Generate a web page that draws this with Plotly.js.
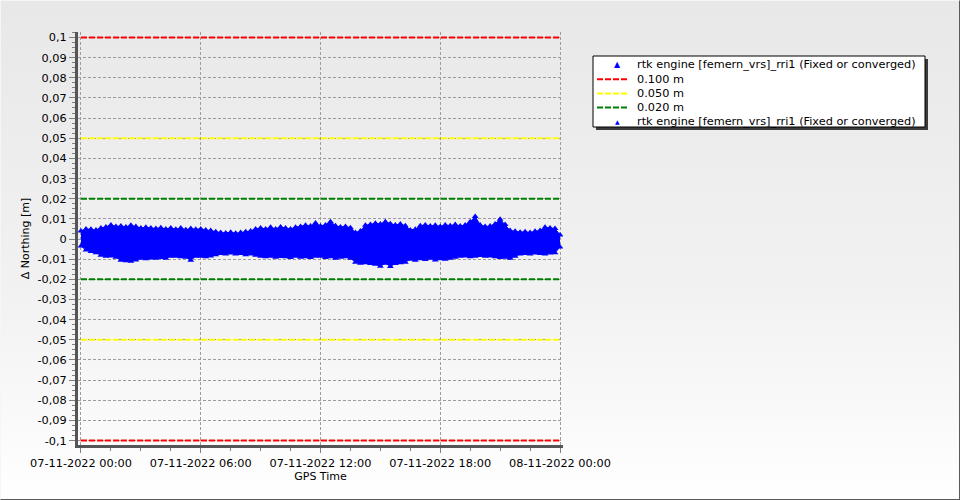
<!DOCTYPE html>
<html>
<head>
<meta charset="utf-8">
<script src="https://cdn.plot.ly/plotly-3.0.1.min.js"></script>
<style>
  html, body { margin: 0; padding: 0; }
  #wrap { position: relative; width: 960px; height: 500px;
          background: linear-gradient(to bottom, #e8e8e8 0%, #f2f2f2 60%, #ffffff 100%); }
  #chart { position: absolute; left: 0; top: 0; width: 960px; height: 500px; }
  #frame { position: absolute; left: 0; top: 0; width: 960px; height: 500px; box-sizing: border-box;
           border-top: 1px solid #f6f6f6; border-left: 1px solid #f6f6f6;
           border-right: 1px solid #5a5a5a; border-bottom: 1px solid #5a5a5a; pointer-events: none; }
</style>
</head>
<body>
<div id="wrap"><div id="chart"></div><div id="frame"></div></div>
<script>
// ---- data ----
const dayStart = '2022-11-07 00:00';
const dayEnd = '2022-11-08 00:00';
const sampleStepMinutes = 15;

// upper envelope of the rtk Δ Northing scatter (m), every 15 min from 00:00 to 24:00
const upperValues = [
  0.0040, 0.0050, 0.0048, 0.0045, 0.0055, 0.0060, 0.0070, 0.0062,
  0.0065, 0.0060, 0.0068, 0.0062, 0.0055, 0.0058, 0.0054, 0.0052,
  0.0056, 0.0050, 0.0055, 0.0048, 0.0054, 0.0046, 0.0052, 0.0048,
  0.0050, 0.0045, 0.0042, 0.0036, 0.0032, 0.0030, 0.0034, 0.0028,
  0.0032, 0.0036, 0.0040, 0.0050, 0.0055, 0.0050, 0.0058, 0.0050,
  0.0060, 0.0054, 0.0050, 0.0058, 0.0062, 0.0068, 0.0064, 0.0080,
  0.0064, 0.0070, 0.0086, 0.0066, 0.0060, 0.0062, 0.0056, 0.0032,
  0.0040, 0.0068, 0.0072, 0.0078, 0.0074, 0.0086, 0.0076, 0.0070,
  0.0074, 0.0066, 0.0045, 0.0048, 0.0066, 0.0070, 0.0064, 0.0068,
  0.0062, 0.0070, 0.0066, 0.0072, 0.0064, 0.0070, 0.0085, 0.0112,
  0.0070, 0.0062, 0.0064, 0.0075, 0.0098, 0.0072, 0.0042, 0.0038,
  0.0034, 0.0036, 0.0032, 0.0038, 0.0042, 0.0058, 0.0055, 0.0052,
  0.0020
];
// lower envelope (m)
const lowerValues = [
  -0.0035, -0.0055, -0.0062, -0.0068, -0.0080, -0.0085, -0.0084, -0.0090,
  -0.0105, -0.0108, -0.0110, -0.0104, -0.0095, -0.0098, -0.0094, -0.0096,
  -0.0092, -0.0095, -0.0086, -0.0085, -0.0088, -0.0090, -0.0105, -0.0086,
  -0.0085, -0.0088, -0.0084, -0.0078, -0.0072, -0.0075, -0.0070, -0.0074,
  -0.0072, -0.0078, -0.0074, -0.0080, -0.0086, -0.0088, -0.0085, -0.0090,
  -0.0087, -0.0088, -0.0092, -0.0086, -0.0090, -0.0088, -0.0092, -0.0086,
  -0.0085, -0.0092, -0.0088, -0.0095, -0.0090, -0.0088, -0.0095, -0.0115,
  -0.0120, -0.0118, -0.0122, -0.0125, -0.0135, -0.0120, -0.0136, -0.0122,
  -0.0118, -0.0115, -0.0100, -0.0105, -0.0098, -0.0102, -0.0096, -0.0104,
  -0.0098, -0.0100, -0.0095, -0.0090, -0.0086, -0.0084, -0.0088, -0.0085,
  -0.0082, -0.0086, -0.0084, -0.0088, -0.0092, -0.0090, -0.0095, -0.0085,
  -0.0075, -0.0072, -0.0074, -0.0070, -0.0072, -0.0075, -0.0070, -0.0068,
  -0.0040
];

const thresholds = [0.1, 0.05, 0.02];
const thresholdNames = ['0.100 m', '0.050 m', '0.020 m'];
const seriesName = 'rtk engine [femern_vrs]_rri1 (Fixed or converged)';

const yTickVals = [0.1, 0.09, 0.08, 0.07, 0.06, 0.05, 0.04, 0.03, 0.02, 0.01, 0,
  -0.01, -0.02, -0.03, -0.04, -0.05, -0.06, -0.07, -0.08, -0.09, -0.1];
const yTickText = ['0,1', '0,09', '0,08', '0,07', '0,06', '0,05', '0,04', '0,03', '0,02', '0,01', '0',
  '-0,01', '-0,02', '-0,03', '-0,04', '-0,05', '-0,06', '-0,07', '-0,08', '-0,09', '-0,1'];

// ---- build ----
function sampleTimes(n) {
  const t0 = new Date(dayStart.replace(' ', 'T') + ':00Z').getTime();
  const out = [];
  for (let i = 0; i < n; i++) {
    const d = new Date(t0 + i * sampleStepMinutes * 60000);
    out.push(d.toISOString().slice(0, 19).replace('T', ' '));
  }
  return out;
}
const times = sampleTimes(upperValues.length);

const lineColors = ['#ff0000', '#ffff00', '#008000'];
const traces = [];
thresholds.forEach((v, i) => {
  [v, -v].forEach(val => {
    traces.push({
      x: [dayStart, dayEnd], y: [val, val], type: 'scatter', mode: 'lines',
      name: thresholdNames[i], showlegend: false, hoverinfo: 'skip',
      line: { color: lineColors[i], width: 2, dash: '6px,2px' }
    });
  });
});
traces.push({
  x: times, y: lowerValues, type: 'scatter', mode: 'lines+markers', name: seriesName,
  showlegend: false, line: { color: '#0000ff', width: 1 },
  marker: { symbol: 'triangle-up', size: 6, color: '#0000ff' }
});
traces.push({
  x: times, y: upperValues, type: 'scatter', mode: 'lines+markers', name: seriesName,
  showlegend: false, fill: 'tonexty', fillcolor: '#0000ff', line: { color: '#0000ff', width: 1 },
  marker: { symbol: 'triangle-up', size: 6, color: '#0000ff' }
});

// ---- custom legend (pixel -> paper) ----
const L = 78, T = 32, W = 485, H = 413;
const px = v => (v - L) / W;
const py = v => (T + H - v) / H;
const font = { family: 'DejaVu Sans, sans-serif', size: 11, color: '#000' };
const legendFont = { family: 'DejaVu Sans, sans-serif', size: 11.3, color: '#000' };
const tickFont = { family: 'DejaVu Sans, sans-serif', size: 11.3, color: '#000' };

const shapes = [
  { type: 'rect', xref: 'paper', yref: 'paper', x0: px(596), x1: px(928), y0: py(59), y1: py(130),
    fillcolor: '#3c3c3c', line: { width: 0 } },
  { type: 'rect', xref: 'paper', yref: 'paper', x0: px(593), x1: px(925), y0: py(56), y1: py(127),
    fillcolor: '#ffffff', line: { color: '#000', width: 1 } }
];
const rowY = [65, 79.3, 93.5, 107.5, 121.5];
thresholds.forEach((v, i) => {
  shapes.push({ type: 'line', xref: 'paper', yref: 'paper', x0: px(597), x1: px(628),
    y0: py(rowY[i + 1]), y1: py(rowY[i + 1]), line: { color: lineColors[i], width: 2, dash: '6px,2px' } });
});
const legendLabels = [seriesName].concat(thresholdNames, [seriesName]);
const annotations = legendLabels.map((t, i) => ({
  xref: 'paper', yref: 'paper', x: px(635), y: py(rowY[i]), xanchor: 'left', yanchor: 'middle',
  text: t, showarrow: false, font: legendFont
}));
annotations.push({ xref: 'paper', yref: 'paper', x: px(617), y: py(rowY[0]), xanchor: 'center', yanchor: 'middle',
  text: '▲', showarrow: false, font: { family: 'DejaVu Sans', size: 8, color: '#0000ff' } });
annotations.push({ xref: 'paper', yref: 'paper', x: px(617), y: py(rowY[4]), xanchor: 'center', yanchor: 'middle',
  text: '▲', showarrow: false, font: { family: 'DejaVu Sans', size: 6, color: '#0000ff' } });

const layout = {
  width: 960, height: 500,
  margin: { l: L, r: 960 - L - W, t: T, b: 500 - T - H, pad: 0 },
  paper_bgcolor: 'rgba(0,0,0,0)', plot_bgcolor: 'rgba(0,0,0,0)',
  separators: ', ',
  showlegend: false,
  font: font,
  xaxis: {
    type: 'date', range: ['2022-11-06 23:51', '2022-11-08 00:09'],
    tickmode: 'linear', tick0: dayStart, dtick: 6 * 3600000, tickformat: '%d-%m-%Y %H:%M',
    ticks: 'outside', ticklen: 5, tickcolor: '#808080', tickwidth: 1,
    showline: true, linecolor: '#555555', linewidth: 3,
    showgrid: true, gridcolor: '#9c9c9c', gridwidth: 1, griddash: '3px,2px', zeroline: false,
    minor: { tickmode: 'linear', tick0: dayStart, dtick: 1.5 * 3600000, ticks: 'outside', ticklen: 3,
             tickcolor: '#808080', showgrid: false },
    tickfont: tickFont,
    title: { text: 'GPS Time', font: font, standoff: 0 }
  },
  yaxis: {
    range: [-0.1022, 0.1027],
    tickmode: 'array', tickvals: yTickVals, ticktext: yTickText,
    ticks: 'outside', ticklen: 6, tickcolor: '#808080', tickwidth: 1,
    showline: true, linecolor: '#555555', linewidth: 3,
    showgrid: true, gridcolor: '#9c9c9c', gridwidth: 1, griddash: '3px,2px', zeroline: false,
    minor: { tickmode: 'linear', tick0: 0, dtick: 0.0025, ticks: 'outside', ticklen: 3,
             tickcolor: '#808080', showgrid: false },
    tickfont: tickFont,
    title: { text: 'Δ Northing [m]', font: font, standoff: 6 }
  },
  shapes: shapes,
  annotations: annotations
};

Plotly.newPlot('chart', traces, layout, { staticPlot: true, displayModeBar: false });
</script>
</body>
</html>
